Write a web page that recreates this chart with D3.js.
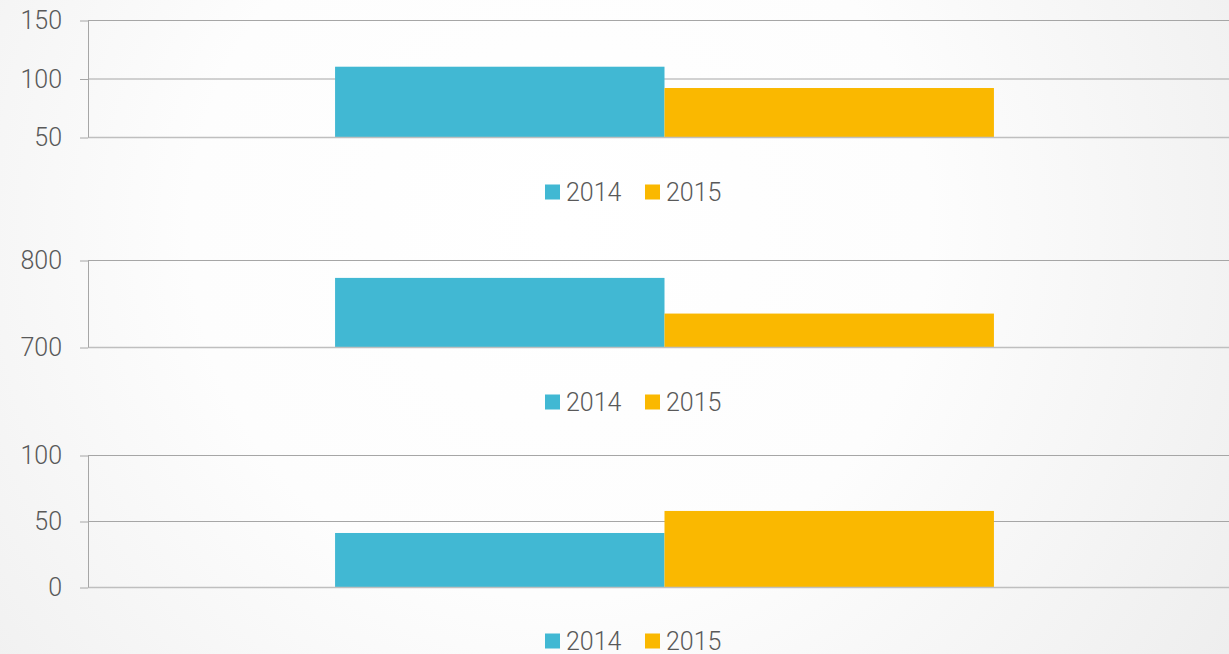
<!DOCTYPE html>
<html lang="en">
<head>
<meta charset="UTF-8">
<title>Bars 2014 vs 2015</title>
<script src="https://cdn.jsdelivr.net/npm/d3@7"></script>
<style>
  html, body { margin: 0; padding: 0; }
  body { width: 1229px; height: 654px; overflow: hidden; }
  text { font-family: Roboto, "Open Sans", sans-serif; font-weight: 300; fill: #595959; }
</style>
</head>
<body>
<div id="chart"></div>
<script>
var width = 1229, height = 654
var series = ['2014', '2015']
var colors = ['#41B8D3', '#FAB800']
var category = ['A']

// values per panel
var panel1 = [110.5, 92.3]
var panel2 = [780, 739]
var panel3 = [41.3, 58]

var ticks1 = [50, 100, 150]
var ticks2 = [700, 800]
var ticks3 = [0, 50, 100]

var panels = [
  { values: panel1, ticks: ticks1, top: 20.5, bottom: 137.5, legendY: 192 },
  { values: panel2, ticks: ticks2, top: 260.5, bottom: 347.5, legendY: 402 },
  { values: panel3, ticks: ticks3, top: 455.5, bottom: 587.5, legendY: 641 }
]

var left = 88, right = 1241

var svg = d3.select('#chart').append('svg')
  .attr('width', width).attr('height', height)

var defs = svg.append('defs')
var grad = defs.append('radialGradient')
  .attr('id', 'bg')
  .attr('gradientUnits', 'userSpaceOnUse')
  .attr('cx', 560).attr('cy', 230).attr('r', 820)
grad.append('stop').attr('offset', '0%').attr('stop-color', '#ffffff')
grad.append('stop').attr('offset', '45%').attr('stop-color', '#fdfdfd')
grad.append('stop').attr('offset', '100%').attr('stop-color', '#ededed')

svg.append('rect').attr('width', width).attr('height', height).attr('fill', 'url(#bg)')

var x0 = d3.scaleBand().domain(category).range([left, right]).padding(0)
var x1 = d3.scaleBand().domain(series).range([0, x0.bandwidth()])
  .paddingInner(0).paddingOuter(0.75)

panels.forEach(function(p) {
  var y = d3.scaleLinear()
    .domain([p.ticks[0], p.ticks[p.ticks.length - 1]])
    .range([p.bottom, p.top])

  var g = svg.append('g')

  // grid lines
  g.selectAll('.grid')
    .data(p.ticks.slice(1))
    .enter().append('line')
    .attr('x1', left).attr('x2', width)
    .attr('y1', function(d) { return y(d) })
    .attr('y2', function(d) { return y(d) })
    .attr('stroke', '#a6a6a6').attr('stroke-width', 1)

  // bars
  g.selectAll('.bar')
    .data(p.values)
    .enter().append('rect')
    .attr('x', function(d, i) { return x0('A') + x1(series[i]) })
    .attr('width', x1.bandwidth())
    .attr('y', function(d) { return y(d) })
    .attr('height', function(d) { return y(p.ticks[0]) - y(d) })
    .attr('fill', function(d, i) { return colors[i] })

  // baseline
  g.append('line')
    .attr('x1', left).attr('x2', width)
    .attr('y1', y(p.ticks[0])).attr('y2', y(p.ticks[0]))
    .attr('stroke', '#bfbfbf').attr('stroke-width', 1.5)

  // y axis
  var yAxis = d3.axisLeft(y).tickValues(p.ticks).tickSize(8).tickPadding(18)
  var ag = g.append('g').attr('transform', 'translate(' + left + ',0)').call(yAxis)
  ag.select('.domain').attr('stroke', '#a6a6a6').attr('d', 'M0.5,' + p.top + 'V' + p.bottom)
  ag.selectAll('.tick line').attr('stroke', '#a6a6a6')
  ag.selectAll('.tick text')
    .attr('font-size', 25)
    .attr('font-family', 'Roboto, sans-serif')
    .attr('fill', '#595959')
    .attr('font-weight', 300)

  // legend
  var lg = g.append('g')
  var legX = [545, 645]
  series.forEach(function(s, i) {
    lg.append('rect')
      .attr('x', legX[i]).attr('y', p.legendY - 7.5)
      .attr('width', 15).attr('height', 15)
      .attr('fill', colors[i])
    lg.append('text')
      .attr('x', legX[i] + 21).attr('y', p.legendY)
      .attr('dy', '0.35em')
      .attr('font-size', 25)
      .text(s)
  })
})
</script>
</body>
</html>
